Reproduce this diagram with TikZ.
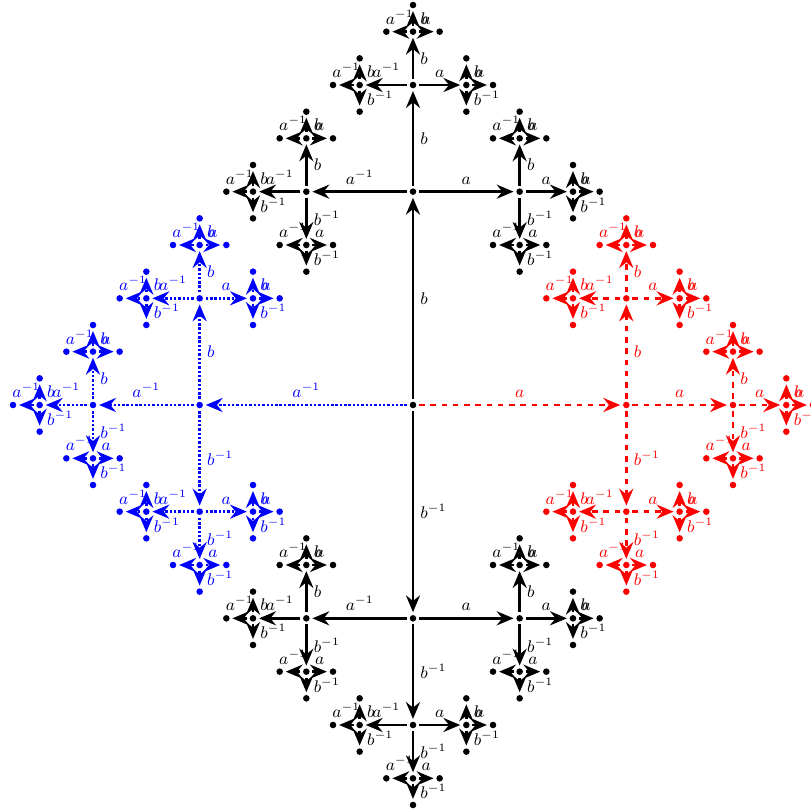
\documentclass[tikz,border=0pt]{standalone}
\usepackage{amsmath}
\usetikzlibrary{arrows.meta}
\usetikzlibrary{calc}
\tikzset{
    vertex/.style={
        circle,
        fill,
        inner sep=0pt,
        minimum size=3.5pt,
        outer sep=1.5pt
    },
    lbl/.style={
        font=\small
    },
    a branch/.style={red, dashed},
    A branch/.style={blue, densely dotted},
    b branch/.style={black},
    every edge/.append style={
        draw,
        ->,>={Stealth[length=9pt, width=7.5pt, inset=3pt]},
        line width=1.3pt
    }
}

% #1 parent node, #2 generator that led to it, #3 edge length, #4 levels left
\newcommand{\grow}[4]{%
    \ifnum#4>0
        \pgfmathsetmacro{\halflen}{#3/2}%
        \pgfmathtruncatemacro{\levelsleft}{#4-1}%
        \foreach \gen/\inv/\dx/\dy/\lab/\side in {a/A/1/0/a/above,A/a/-1/0/a^{-1}/above,b/B/0/1/b/right,B/b/0/-1/b^{-1}/right}{%
            \def\from{#2}%
            \ifx\inv\from\else
                \node[vertex] (#1\gen) at ($(#1)+(\dx*#3,\dy*#3)$) {};
                \draw (#1) edge node[\side, lbl] {$\lab$} (#1\gen);
                \edef\next{\noexpand\grow{#1\gen}{\gen}{\halflen}{\levelsleft}}\next
            \fi
        }%
    \fi
}

\begin{document}
\begin{tikzpicture}[line width=1.3pt]
    \useasboundingbox (-7.744,-7.575) rectangle (7.463,7.594);
    \node[vertex] (O) at (0,0) {};

    \begin{scope}[a branch]
        \node[vertex] (a) at (4,0) {};
        \draw (O) edge node[above, lbl] {$a$} (a);
        \grow{a}{a}{2}{3}
    \end{scope}

    \begin{scope}[A branch]
        \node[vertex] (A) at (-4,0) {};
        \draw (O) edge node[above, lbl] {$a^{-1}$} (A);
        \grow{A}{A}{2}{3}
    \end{scope}

    \begin{scope}[b branch]
        \node[vertex] (b) at (0,4) {};
        \draw (O) edge node[right, lbl] {$b$} (b);
        \grow{b}{b}{2}{3}

        \node[vertex] (B) at (0,-4) {};
        \draw (O) edge node[right, lbl] {$b^{-1}$} (B);
        \grow{B}{B}{2}{3}
    \end{scope}
\end{tikzpicture}
\end{document}
